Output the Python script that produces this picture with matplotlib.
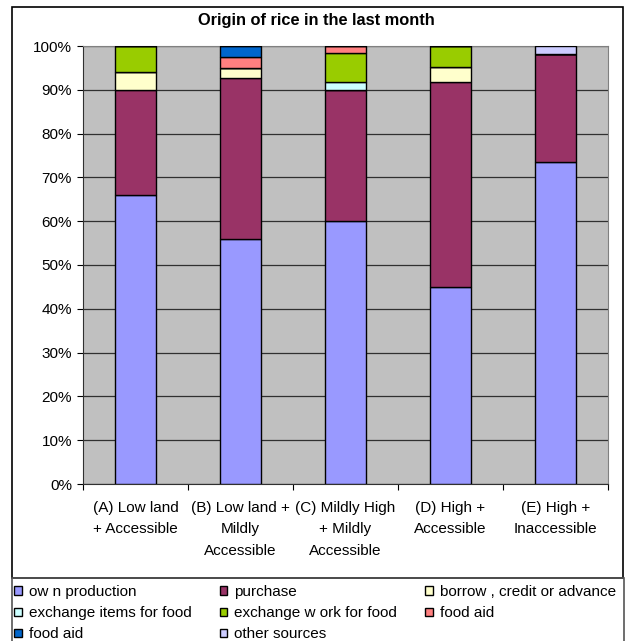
import numpy as np
import matplotlib.pyplot as plt
from matplotlib.patches import Rectangle
from matplotlib.ticker import PercentFormatter

plt.rcParams['font.family'] = ['Liberation Sans', 'DejaVu Sans']

categories = ["(A) Low land\n+ Accessible", "(B) Low land +\nMildly\nAccessible",
              "(C) Mildly High\n+ Mildly\nAccessible", "(D) High +\nAccessible",
              "(E) High +\nInaccessible"]
own = [66.0, 56.0, 60.0, 45.0, 73.5]
purchase = [24.0, 36.7, 30.0, 46.8, 24.7]
borrow = [4.1, 2.3, 0.0, 3.4, 0.0]
exch_items = [0.0, 0.0, 1.8, 0.0, 0.0]
exch_work = [5.9, 0.0, 6.5, 4.8, 0.0]
food_aid_pink = [0.0, 2.5, 1.7, 0.0, 0.0]
food_aid_blue = [0.0, 2.5, 0.0, 0.0, 0.0]
other = [0.0, 0.0, 0.0, 0.0, 1.8]

series = [("ow n production", own, "#9999FF"),
          ("purchase", purchase, "#993366"),
          ("borrow , credit or advance", borrow, "#FFFFCC"),
          ("exchange items for food", exch_items, "#CCFFFF"),
          ("exchange w ork for food", exch_work, "#99CC00"),
          ("food aid", food_aid_pink, "#FF8080"),
          ("food aid", food_aid_blue, "#0066CC"),
          ("other sources", other, "#CCCCFF")]

W, H = 631, 641
fig = plt.figure(figsize=(W / 100, H / 100), dpi=100)

# chart border
fig.patches.append(Rectangle((12 / W, 1 - 578 / H), (623 - 12) / W, (578 - 7) / H,
                             transform=fig.transFigure, fill=False, ec='black', lw=1.2))

ax = fig.add_axes([83 / W, 1 - 484 / H, (608 - 83) / W, (484 - 46) / H])
ax.set_facecolor('#C0C0C0')
x = np.arange(len(categories))
bottom = np.zeros(len(categories))
handles = []
for label, vals, color in series:
    vals = np.array(vals)
    b = ax.bar(x, vals, 0.39, bottom=bottom, color=color, edgecolor='black', lw=1.0,
               label=label, zorder=3)
    handles.append(b)
    bottom += vals

ax.set_xlim(-0.5, 4.5)
ax.set_ylim(0, 100)
ax.set_yticks(np.arange(0, 101, 10))
ax.yaxis.set_major_formatter(PercentFormatter(decimals=0))
ax.yaxis.grid(True, color='#303030', lw=0.9, zorder=1)
ax.set_axisbelow(True)
ax.set_xticks(np.arange(-0.5, 5, 1))
ax.set_xticklabels([])
ax.set_xticks(x, minor=True)
ax.set_xticklabels(categories, minor=True, fontsize=11, linespacing=1.68)
ax.tick_params(axis='x', which='minor', length=0, pad=12)
ax.tick_params(axis='x', which='major', length=4, direction='out')
ax.tick_params(axis='y', length=4, direction='out', labelsize=11, pad=4)
for s in ['top', 'right']:
    ax.spines[s].set_color('#808080')
for s in ['left', 'bottom']:
    ax.spines[s].set_color('#303030')

fig.text(316 / W, 1 - 21 / H, "Origin of rice in the last month", ha='center', va='center',
         fontsize=11.8, fontweight='bold')

# legend (row-wise order like the original)
order = [0, 3, 6, 1, 4, 7, 2, 5]
leg = fig.legend([handles[i] for i in order], [series[i][0] for i in order],
                 loc='upper left', bbox_to_anchor=(8 / W, 1 - 579 / H), ncol=3,
                 frameon=False, fontsize=11, handlelength=0.5, handleheight=0.5,
                 handletextpad=0.45, columnspacing=1.85, labelspacing=0.47,
                 borderaxespad=0)
fig.patches.append(Rectangle((12 / W, -0.01), (624 - 12) / W, (641 - 578) / H + 0.01,
                             transform=fig.transFigure, fill=False, ec='#555555', lw=1.2))

fig.savefig('out.png', dpi=100)
